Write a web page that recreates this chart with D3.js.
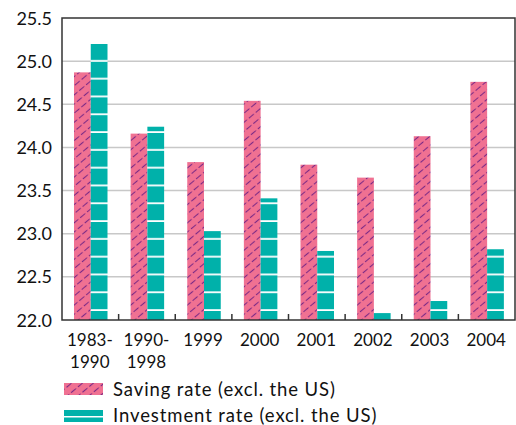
<!DOCTYPE html>
<html>
<head>
<meta charset="utf-8">
<script src="https://cdn.jsdelivr.net/npm/d3@7"></script>
<style>
  body { margin: 0; background: #fff; }
  text { font-family: Lato, "Open Sans", sans-serif; fill: #111; }
</style>
</head>
<body>
<svg id="chart" width="516" height="425"></svg>
<script>
// Data
var categories = ["1983-\n1990", "1990-\n1998", "1999", "2000", "2001", "2002", "2003", "2004"];
var savingRate = [24.87, 24.16, 23.83, 24.54, 23.80, 23.65, 24.13, 24.76];
var investmentRate = [25.21, 24.24, 23.03, 23.41, 22.80, 22.08, 22.22, 22.82];
var yTicks = [22.0, 22.5, 23.0, 23.5, 24.0, 24.5, 25.0, 25.5];
var seriesNames = ["Saving rate (excl. the US)", "Investment rate (excl. the US)"];

var pink = "#f07192";
var purple = "#7d2a86";
var teal = "#00b1aa";

var svg = d3.select("#chart");
var plotLeft = 62, plotRight = 515, plotTop = 18, plotBottom = 320;

// Scales
var x = d3.scaleBand().domain(categories).range([plotLeft, plotRight]).padding(0);
var xInner = d3.scaleBand().domain(["saving", "investment"]).range([12, 45.5]);
var y = d3.scaleLinear().domain([22, 25.5]).range([plotBottom, plotTop]);

// Patterns
var defs = svg.append("defs");
var hatch = defs.append("pattern")
    .attr("id", "hatch")
    .attr("patternUnits", "userSpaceOnUse")
    .attr("width", 9).attr("height", 7)
    .attr("patternTransform", "rotate(-40)");
hatch.append("rect").attr("width", 9).attr("height", 7).attr("fill", pink);
hatch.append("line")
    .attr("x1", 0).attr("x2", 9).attr("y1", 3.5).attr("y2", 3.5)
    .attr("stroke", purple).attr("stroke-width", 1.1)
    .attr("stroke-dasharray", "6.5,2.5");

var step = 17.8;
var stripes = defs.append("pattern")
    .attr("id", "stripes")
    .attr("patternUnits", "userSpaceOnUse")
    .attr("width", 20).attr("height", step)
    .attr("y", 310 - step + 1);
stripes.append("rect").attr("width", 20).attr("height", step).attr("fill", teal);
stripes.append("rect").attr("x", 0).attr("y", step - 1.8).attr("width", 20).attr("height", 1.8).attr("fill", "#fff");

// Gridlines
svg.append("g").selectAll("line")
    .data(yTicks.filter(function(d) { return d > 22 && d < 25.5; }))
    .enter().append("line")
    .attr("x1", plotLeft).attr("x2", plotRight)
    .attr("y1", function(d) { return y(d); })
    .attr("y2", function(d) { return y(d); })
    .attr("stroke", "#c8c8c8").attr("stroke-width", 1.5);

// Bars
var groups = svg.append("g").selectAll("g")
    .data(categories)
    .enter().append("g")
    .attr("transform", function(d) { return "translate(" + x(d) + ",0)"; });

groups.append("rect")
    .attr("x", xInner("saving"))
    .attr("width", xInner.bandwidth())
    .attr("y", function(d, i) { return y(savingRate[i]); })
    .attr("height", function(d, i) { return y(22) - y(savingRate[i]); })
    .attr("fill", "url(#hatch)");

groups.append("rect")
    .attr("x", xInner("investment"))
    .attr("width", xInner.bandwidth())
    .attr("y", function(d, i) { return y(investmentRate[i]); })
    .attr("height", function(d, i) { return y(22) - y(investmentRate[i]); })
    .attr("fill", "url(#stripes)");

// Frame
svg.append("rect")
    .attr("x", plotLeft).attr("y", plotTop)
    .attr("width", plotRight - plotLeft).attr("height", plotBottom - plotTop)
    .attr("fill", "none").attr("stroke", "#333").attr("stroke-width", 1.5);

// Ticks between groups, pointing up
svg.append("g").selectAll("line")
    .data(categories.slice(1))
    .enter().append("line")
    .attr("x1", function(d) { return x(d); })
    .attr("x2", function(d) { return x(d); })
    .attr("y1", plotBottom).attr("y2", plotBottom - 6)
    .attr("stroke", "#333").attr("stroke-width", 1.5);

// Y axis labels
svg.append("g").selectAll("text")
    .data(yTicks)
    .enter().append("text")
    .attr("x", 52)
    .attr("y", function(d) { return y(d) + 6.5; })
    .attr("text-anchor", "end")
    .style("font-size", "18px")
    .text(function(d) { return d.toFixed(1); });

// X axis labels
var xl = svg.append("g").selectAll("text")
    .data(categories)
    .enter().append("text")
    .attr("text-anchor", "middle")
    .style("font-size", "17px")
    .attr("transform", function(d) { return "translate(" + (x(d) + x.bandwidth() / 2 - 0.5) + ",346)"; });
xl.selectAll("tspan")
    .data(function(d) { return d.split("\n"); })
    .enter().append("tspan")
    .attr("x", 0)
    .attr("dy", function(d, i) { return i === 0 ? 0 : 22; })
    .text(function(d) { return d; });

// Legend
var legend = svg.append("g");
legend.append("rect").attr("x", 64).attr("y", 383).attr("width", 39).attr("height", 12).attr("fill", "url(#hatch)");
legend.append("rect").attr("x", 64).attr("y", 410).attr("width", 39).attr("height", 12).attr("fill", teal);
legend.append("rect").attr("x", 64).attr("y", 416).attr("width", 39).attr("height", 1.5).attr("fill", "#fff");
legend.selectAll("text")
    .data(seriesNames)
    .enter().append("text")
    .attr("x", 113)
    .attr("y", function(d, i) { return 396 + i * 26; })
    .style("font-size", "18.5px")
    .style("letter-spacing", "0.9px")
    .text(function(d) { return d; });
</script>
</body>
</html>
